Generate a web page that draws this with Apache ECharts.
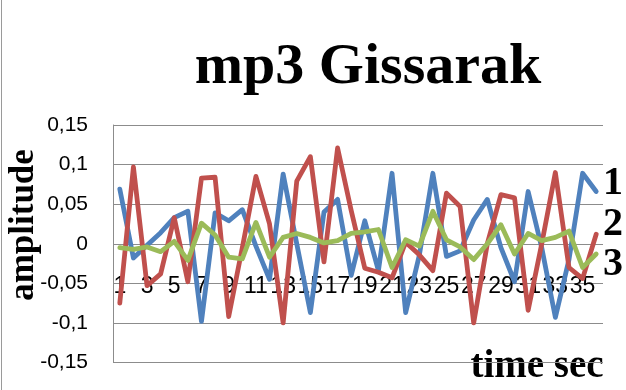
<!DOCTYPE html>
<html>
<head>
<meta charset="utf-8">
<script src="https://cdn.jsdelivr.net/npm/echarts@6/dist/echarts.min.js"></script>
<style>
  html, body { margin: 0; padding: 0; background: #ffffff; }
  #chart { width: 626px; height: 390px; }
</style>
</head>
<body>
<div id="chart"></div>
<script>
// Texts
const chartTitle = 'mp3 Gissarak';
const yAxisTitle = 'amplitude';
const xAxisTitle = 'time sec';
const seriesNames = ['1', '2', '3'];

// Time steps (seconds)
const categories = ['1','2','3','4','5','6','7','8','9','10','11','12','13','14','15','16','17','18',
                    '19','20','21','22','23','24','25','26','27','28','29','30','31','32','33','34','35','36'];

// Amplitude tick labels (decimal comma), from min to max
const yTickLabels = ['-0,15', '-0,1', '-0,05', '0', '0,05', '0,1', '0,15'];
const yMin = -0.15;
const yMax = 0.15;
const yStep = 0.05;

// Amplitude samples per series
const series1 = [0.069, -0.018, -0.002, 0.014, 0.033, 0.041, -0.098, 0.039, 0.029, 0.043, -0.003, -0.045,
                 0.088, 0.000, -0.087, 0.040, 0.056, -0.040, 0.029, -0.034, 0.089, -0.087, -0.015, 0.089,
                 -0.016, -0.009, 0.030, 0.056, -0.005, -0.048, 0.066, -0.005, -0.093, -0.020, 0.089, 0.066];
const series2 = [-0.075, 0.097, -0.053, -0.038, 0.033, -0.048, 0.083, 0.084, -0.092, -0.005, 0.085, 0.025,
                 -0.100, 0.079, 0.110, -0.023, 0.121, 0.042, -0.031, -0.036, -0.043, 0.002, -0.014, -0.034,
                 0.064, 0.047, -0.100, 0.000, 0.062, 0.058, -0.084, 0.000, 0.090, -0.030, -0.044, 0.012];
const series3 = [-0.005, -0.007, -0.004, -0.010, 0.003, -0.021, 0.026, 0.011, -0.017, -0.019, 0.027, -0.017,
                 0.008, 0.013, 0.008, 0.001, 0.004, 0.013, 0.015, 0.018, -0.030, 0.005, -0.003, 0.041,
                 0.005, -0.004, -0.020, 0.000, 0.024, -0.013, 0.013, 0.004, 0.008, 0.016, -0.030, -0.013];

const colors = ['#4F81BD', '#C0504D', '#9BBB59'];
const serifBold = '"Liberation Serif", "Times New Roman", serif';
const sans = '"Liberation Sans", Arial, sans-serif';
const gridColor = '#8c8c8c';

const chart = echarts.init(document.getElementById('chart'), null, { renderer: 'canvas' });

function lineSeries(name, data, color) {
  return {
    name: name,
    type: 'line',
    data: data,
    symbol: 'none',
    smooth: false,
    lineStyle: { color: color, width: 4.8, join: 'round', cap: 'round' },
    itemStyle: { color: color }
  };
}

function sideLabel(text, x, y, size) {
  return {
    type: 'text', x: x, y: y,
    style: { text: text, font: 'bold ' + size + 'px ' + serifBold, fill: '#000', align: 'center', verticalAlign: 'middle' }
  };
}

chart.setOption({
  animation: false,
  backgroundColor: '#ffffff',
  grid: { left: 113, right: 23, top: 125, bottom: 27.5, containLabel: false },
  xAxis: {
    type: 'category',
    data: categories,
    boundaryGap: true,
    position: 'bottom',
    offset: -79.2,
    axisLine: { show: false },
    axisTick: { show: false },
    axisLabel: {
      interval: 1,
      margin: -8,
      color: '#000000',
      fontFamily: sans,
      fontSize: 23
    },
    splitLine: { show: false }
  },
  yAxis: {
    type: 'value',
    min: yMin,
    max: yMax,
    interval: yStep,
    axisLine: { show: true, lineStyle: { color: gridColor, width: 1 } },
    axisTick: { show: false },
    axisLabel: {
      margin: 25,
      color: '#000000',
      fontFamily: sans,
      fontSize: 21,
      formatter: function (v) { return yTickLabels[Math.round((v - yMin) / yStep)]; }
    },
    splitLine: { show: true, lineStyle: { color: gridColor, width: 1 } }
  },
  series: [
    lineSeries(seriesNames[0], series1, colors[0]),
    lineSeries(seriesNames[1], series2, colors[1]),
    lineSeries(seriesNames[2], series3, colors[2])
  ],
  graphic: [
    { type: 'line', shape: { x1: 1.5, y1: 0, x2: 1.5, y2: 390 }, style: { stroke: '#9a9a9a', lineWidth: 1 } },
    sideLabel(chartTitle, 368, 68, 58),
    Object.assign(sideLabel(yAxisTitle, 24, 225, 35), { rotation: Math.PI / 2 }),
    sideLabel(xAxisTitle, 537, 367, 39),
    sideLabel(seriesNames[0], 613, 184, 40),
    sideLabel(seriesNames[1], 613, 225, 40),
    sideLabel(seriesNames[2], 613, 265, 40)
  ]
});
</script>
</body>
</html>
